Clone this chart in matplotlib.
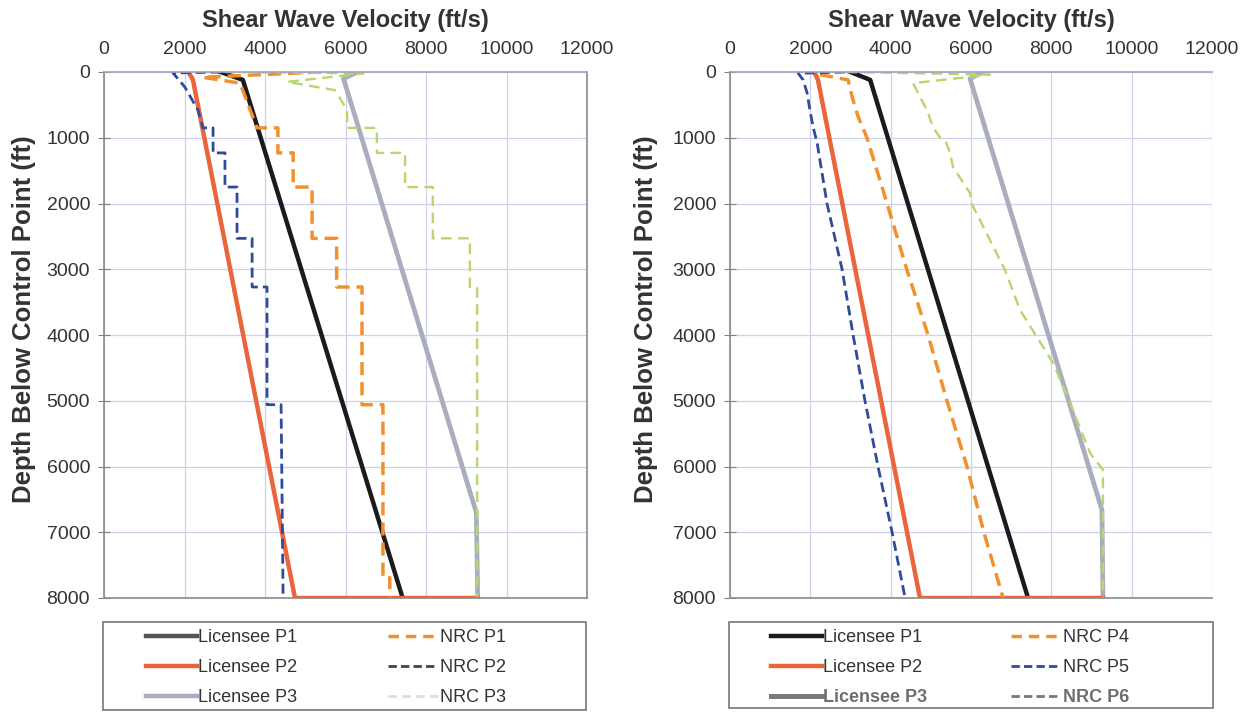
import matplotlib
matplotlib.use('Agg')
import matplotlib.pyplot as plt
from matplotlib.lines import Line2D
from matplotlib.patches import Rectangle

plt.rcParams['font.family'] = ['Liberation Sans', 'DejaVu Sans']

# ---- datos painel esquerdo (velocidade ft/s, profundidade ft) ----
lic_p1_v = [2900, 3450, 7420]
lic_p1_d = [0, 120, 8000]
lic_p2_v = [2100, 2210, 4745, 9285]
lic_p2_d = [0, 120, 8000, 8000]
lic_p3_v = [6300, 5950, 9250, 9285]
lic_p3_d = [0, 100, 6700, 8000]

nrc_p1_v = [5400, 2450, 3380, 3800, 4320, 4320, 4700, 4700, 5170, 5170, 5780,
            5780, 6410, 6410, 6930, 6930, 7100, 7100]
nrc_p1_d = [0, 80, 170, 850, 850, 1230, 1230, 1750, 1750, 2530, 2530,
            3270, 3270, 5060, 5060, 7690, 7690, 8000]
nrc_p2_v = [2900, 1715, 2010, 2335, 2460, 2710, 2710, 3005, 3005, 3305, 3305,
            3680, 3680, 4050, 4050, 4400, 4450]
nrc_p2_d = [0, 15, 230, 580, 850, 850, 1230, 1230, 1750, 1750, 2530,
            2530, 3270, 3270, 5060, 5060, 8000]
nrc_p3_v = [3000, 6450, 4550, 5440, 5740, 6040, 6040, 6780, 6780, 7480, 7480,
            8170, 8170, 9090, 9090, 9270, 9270]
nrc_p3_d = [0, 20, 150, 245, 275, 580, 850, 850, 1230, 1230, 1750,
            1750, 2530, 2530, 3270, 3270, 8000]

# ---- datos painel direito ----
r_lic_p1_v = [3000, 3490, 7420]
r_lic_p1_d = [0, 120, 8000]
r_lic_p2_v = [2100, 2190, 4730, 9285]
r_lic_p2_d = [0, 120, 8000, 8000]
r_lic_p3_v = [6300, 5975, 9260, 9285]
r_lic_p3_d = [0, 100, 6660, 8000]

nrc_p4_v = [2240, 2940, 3040, 3190, 3410, 3910, 4400, 4930, 5400, 5900, 6320, 6800]
nrc_p4_d = [40, 120, 380, 680, 1000, 2000, 3000, 4000, 5000, 6000, 7000, 8000]
nrc_p5_v = [2860, 1700, 1820, 1920, 1990, 2070, 2170, 2415, 2790, 3065, 3360,
            3685, 4035, 4360]
nrc_p5_d = [0, 20, 120, 320, 580, 840, 1080, 2000, 3000, 4000, 5000,
            6000, 7000, 8000]
nrc_p6_v = [2900, 6470, 4560, 4730, 4905, 5055, 5230, 5355, 5480, 5550, 5975,
            6015, 6845, 7220, 7635, 8050, 8465, 8965, 9285, 9285]
nrc_p6_d = [0, 40, 170, 380, 580, 840, 1000, 1035, 1230, 1445, 1840,
            2000, 3010, 3620, 4025, 4430, 5035, 5795, 6050, 8000]

x_ticks = [0, 2000, 4000, 6000, 8000, 10000, 12000]
y_ticks = [0, 1000, 2000, 3000, 4000, 5000, 6000, 7000, 8000]

l1 = ['Licensee P1', 'Licensee P2', 'Licensee P3', 'NRC P1', 'NRC P2', 'NRC P3']
l2 = ['Licensee P1', 'Licensee P2', 'Licensee P3', 'NRC P4', 'NRC P5', 'NRC P6']

# cores
preto = '#1b1b1b'
vermelho = '#ea643c'
cinza = '#a9adbf'
laranja = '#f0912e'
azul = '#2f4b9c'
verde = '#b8d66c'

W, H = 1256, 712
fig = plt.figure(figsize=(W / 100, H / 100), dpi=100)
ax1 = fig.add_axes([104 / W, 1 - 598 / H, 483 / W, 526 / H])
ax2 = fig.add_axes([730 / W, 1 - 598 / H, 482 / W, 526 / H])


def estilo(ax, xlab):
    ax.set_xlim(0, 12000)
    ax.set_ylim(8000, 0)
    ax.set_xticks(x_ticks)
    ax.set_yticks(y_ticks)
    ax.xaxis.tick_top()
    ax.xaxis.set_label_position('top')
    ax.tick_params(axis='x', length=0, labelsize=14, pad=10, colors='#333333')
    ax.tick_params(axis='y', direction='inout', length=8, labelsize=14,
                   color='#808080', labelcolor='#333333', pad=6)
    ax.grid(True, color='#cfd1ec', linewidth=0.9)
    ax.set_axisbelow(True)
    for s in ['left', 'bottom', 'right']:
        ax.spines[s].set_color('#8a8a8a')
        ax.spines[s].set_linewidth(1.2)
    ax.spines['top'].set_color('#a0a3c4')
    ax.spines['top'].set_linewidth(1.2)
    ax.set_xlabel('Shear Wave Velocity (ft/s)', fontsize=17, fontweight='bold',
                  color='#333333', labelpad=10)
    ax.set_ylabel('Depth Below Control Point (ft)', fontsize=18.5, fontweight='bold',
                  color='#333333')
    ax.yaxis.set_label_coords(xlab, 0.53)


estilo(ax1, -0.141)
estilo(ax2, -0.149)
ax2.spines['right'].set_visible(False)

# painel esquerdo
ax1.plot(lic_p1_v, lic_p1_d, color=preto, lw=3.2)
ax1.plot(lic_p3_v, lic_p3_d, color=cinza, lw=3.4)
ax1.plot(lic_p2_v, lic_p2_d, color=vermelho, lw=3.2)
ax1.plot(nrc_p1_v, nrc_p1_d, color=laranja, lw=2.5, dashes=(3.8, 2))
ax1.plot(nrc_p2_v, nrc_p2_d, color=azul, lw=2.0, dashes=(3.6, 1.8))
ax1.plot(nrc_p3_v, nrc_p3_d, color=verde, lw=1.7, dashes=(4.5, 2.7))

# painel direito
ax2.plot(r_lic_p1_v, r_lic_p1_d, color=preto, lw=3.2)
ax2.plot(r_lic_p3_v, r_lic_p3_d, color=cinza, lw=3.4)
ax2.plot(r_lic_p2_v, r_lic_p2_d, color=vermelho, lw=3.2)
ax2.plot(nrc_p4_v, nrc_p4_d, color=laranja, lw=2.5, dashes=(3.8, 2))
ax2.plot(nrc_p5_v, nrc_p5_d, color=azul, lw=2.0, dashes=(3.6, 1.8))
ax2.plot(nrc_p6_v, nrc_p6_d, color=verde, lw=1.7, dashes=(4.5, 2.7))

# legendas (moldura desenhada a parte)
h1 = [Line2D([], [], color='#555555', lw=3.2),
      Line2D([], [], color=vermelho, lw=3.2),
      Line2D([], [], color=cinza, lw=3.2),
      Line2D([], [], color=laranja, lw=2.5, dashes=(3, 2)),
      Line2D([], [], color='#444444', lw=2.0, dashes=(3, 1.5)),
      Line2D([], [], color='#dddddd', lw=2.0, dashes=(3, 2))]
h2 = [Line2D([], [], color=preto, lw=3.2),
      Line2D([], [], color=vermelho, lw=3.2),
      Line2D([], [], color='#7a7a7a', lw=3.6),
      Line2D([], [], color=laranja, lw=2.5, dashes=(3, 2)),
      Line2D([], [], color=azul, lw=2.0, dashes=(3, 1.5)),
      Line2D([], [], color='#777777', lw=2.0, dashes=(3, 1.5))]

for ax, h, l, x0, cs, box in [(ax1, h1, l1, 146, 5.0, (103, 622, 483, 88)),
                              (ax2, h2, l2, 771, 4.6, (729, 622, 484, 86))]:
    leg = ax.legend(h, l, ncol=2, loc='upper left',
                    bbox_to_anchor=(x0 / W, 1 - 629 / H),
                    bbox_transform=fig.transFigure, borderaxespad=0,
                    fontsize=13, frameon=False, handlelength=2.8,
                    handletextpad=0.1, labelspacing=0.72, borderpad=0,
                    columnspacing=cs)
    for t in leg.get_texts():
        t.set_color('#333333')
    bx, by, bw, bh = box
    fig.patches.append(Rectangle((bx / W, 1 - (by + bh) / H), bw / W, bh / H,
                                 transform=fig.transFigure, fill=False,
                                 edgecolor='#777777', linewidth=1.2))

t2 = ax2.get_legend().get_texts()
for i in [2, 5]:
    t2[i].set_fontweight('bold')
    t2[i].set_color('#6e6e6e')

fig.savefig('out.png', dpi=100, facecolor='white')
